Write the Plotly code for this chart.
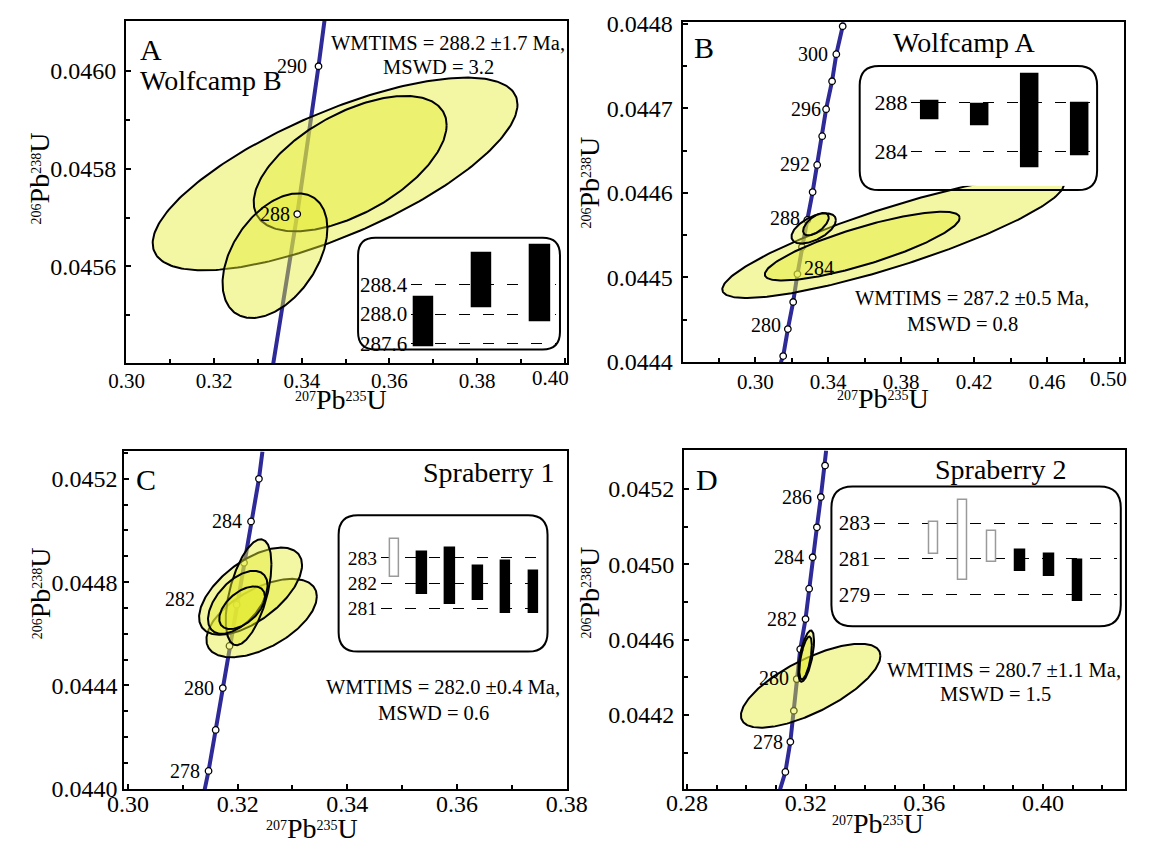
import numpy as np
import plotly.graph_objects as go

W, H = 1150, 847
FONT = "Liberation Serif"
BLUE = "#2e2a98"
FILL = "rgba(228,234,50,0.45)"

# ======================= DATA =======================
# ---- Panel A : Wolfcamp B ----
A_ages = [288, 290]
A_age_x = [0.33896, 0.34381]
A_age_y = [0.045707, 0.046009]
A_line_x = [0.33345, 0.34517]
A_line_y = [0.045400, 0.046102]
A_cx = [0.34759, 0.35103, 0.33387]
A_cy = [0.045789, 0.045810, 0.045622]
A_sx = [0.04162, 0.02201, 0.01196]
A_sy = [0.0001968, 0.0001383, 0.0001274]
A_rho = [0.72, 0.57, 0.44]
A_bar_lo = [287.56, 288.09, 287.90]
A_bar_hi = [288.23, 288.83, 288.95]
A_bar_open = [False, False, False]
A_inset_ticks = [287.6, 288.0, 288.4]
A_inset_text = ["287.6", "288.0", "288.4"]
A_label_ages = [288, 290]
A_xtickvals = [0.30, 0.32, 0.34, 0.36, 0.38, 0.40]
A_xticktext = ["0.30", "0.32", "0.34", "0.36", "0.38", ""]   # last label drawn shifted (as in the figure)

# ---- Panel B : Wolfcamp A ----
B_ages = [278, 280, 282, 284, 286, 288, 290, 292, 294, 296, 298, 300, 302]
B_age_x = [0.31530, 0.31786, 0.32078, 0.32311, 0.32561, 0.32852, 0.33144,
           0.33394, 0.33668, 0.33883, 0.34210, 0.34443, 0.34792]
B_age_y = [0.044407, 0.044439, 0.044471, 0.044504, 0.044536, 0.044568, 0.044601,
           0.044633, 0.044667, 0.044699, 0.044732, 0.044764, 0.044797]
B_line_x = [0.31396, 0.34833]
B_line_y = [0.0443995, 0.0448016]
B_cx = [0.37559, 0.35864, 0.33203, 0.33324]
B_cy = [0.044548, 0.044537, 0.044558, 0.044563]
B_sx = [0.09367, 0.05341, 0.01218, 0.00704]
B_sy = [0.0000722, 0.0000407, 0.0000178, 0.0000132]
B_rho = [0.86, 0.82, 0.55, 0.60]
B_bar_lo = [286.65, 286.15, 282.70, 283.63]
B_bar_hi = [288.12, 287.85, 290.30, 287.98]
B_bar_open = [False, False, False, False]
B_inset_ticks = [284, 288]
B_inset_text = ["284", "288"]
B_label_ages = [280, 284, 288, 292, 296, 300]
B_xtickvals = [0.30, 0.34, 0.38, 0.42, 0.46, 0.50]
B_xticktext = ["0.30", "0.34", "0.38", "0.42", "0.46", ""]

# ---- Panel C : Spraberry 1 ----
C_ages = [278, 279, 280, 281, 282, 283, 284, 285]
C_age_x = [0.31469, 0.31599, 0.31729, 0.31851, 0.31981, 0.32116, 0.32244, 0.32388]
C_age_y = [0.044069, 0.044228, 0.044390, 0.044553, 0.044713, 0.044875, 0.045035, 0.045200]
C_line_x = [0.31399, 0.32452]
C_line_y = [0.043998, 0.045306]
C_cx = [0.32437, 0.32235, 0.32199, 0.32002, 0.32081]
C_cy = [0.044661, 0.044765, 0.044761, 0.044722, 0.044701]
C_sx = [0.01007, 0.00939, 0.00417, 0.00543, 0.00417]
C_sy = [0.0001518, 0.0001687, 0.0002050, 0.0001220, 0.0000825]
C_rho = [0.55, 0.60, 0.53, 0.54, 0.52]
C_bar_lo = [282.25, 281.58, 281.16, 281.33, 280.83, 280.81]
C_bar_hi = [283.75, 283.21, 283.36, 282.66, 282.87, 282.47]
C_bar_open = [True, False, False, False, False, False]
C_inset_ticks = [281, 282, 283]
C_inset_text = ["281", "282", "283"]
C_label_ages = [278, 280, 282, 284]

# ---- Panel D : Spraberry 2 ----
D_ages = [277, 278, 279, 280, 281, 282, 283, 284, 285, 286, 287]
D_age_x = [0.31317, 0.31485, 0.31603, 0.31700, 0.31818, 0.31997, 0.32119,
           0.32237, 0.32380, 0.32513, 0.32656]
D_age_y = [0.043897, 0.044057, 0.044222, 0.044390, 0.044549, 0.044709, 0.044870,
           0.045037, 0.045196, 0.045357, 0.045524]
D_line_x = [0.31138, 0.32692]
D_line_y = [0.043805, 0.045604]
D_cx = [0.32170, 0.32017, 0.31998]
D_cy = [0.044355, 0.044512, 0.044502]
D_sx = [0.02352, 0.00267, 0.00212]
D_sy = [0.0002228, 0.0001363, 0.0001140]
D_rho = [0.71, 0.60, 0.60]
D_bar_lo = [281.28, 279.82, 280.82, 280.31, 280.05, 278.67]
D_bar_hi = [283.07, 284.28, 282.55, 281.53, 281.29, 280.95]
D_bar_open = [True, True, True, False, False, False]
D_inset_ticks = [279, 281, 283]
D_inset_text = ["279", "281", "283"]
D_label_ages = [278, 280, 282, 284, 286]
D_ytickvals = [0.0442, 0.0446, 0.0450, 0.0454]
D_yticktext = ["0.0442", "0.0446", "0.0450", "0.0452"]

# ======================= HELPERS =======================
SX = 1.1  # horizontal layout scale of the panels


def X(px):
    """layout x position (px) -> figure px"""
    return px * SX if px < 575 else 575 + (px - 575) * SX


def fx(px):
    return X(px) / W


def fy(py):
    return 1 - py / H


def ellipse(cx, cy, sx, sy, rho, n=260):
    t = np.linspace(0, 2 * np.pi, n)
    x = cx + sx * np.cos(t)
    y = cy + sy * (rho * np.cos(t) + np.sqrt(1 - rho ** 2) * np.sin(t))
    return x, y


fig = go.Figure()


def add_panel(k, ages, ax, ay, lx, ly, cx, cy, sx, sy, rho, markers_on_top=False):
    xa, ya = ("x%d" % k if k > 1 else "x"), ("y%d" % k if k > 1 else "y")
    pts = sorted(zip(list(ly[:1]) + list(ay) + list(ly[1:]), list(lx[:1]) + list(ax) + list(lx[1:])))
    fig.add_trace(go.Scatter(x=[p[1] for p in pts], y=[p[0] for p in pts], mode="lines",
                             line=dict(color=BLUE, width=4), xaxis=xa, yaxis=ya, hoverinfo="skip"))
    mk = go.Scatter(x=ax, y=ay, mode="markers", text=[str(a) for a in ages],
                    marker=dict(size=6.5, color="white", line=dict(color="black", width=1.3)),
                    xaxis=xa, yaxis=ya)
    if not markers_on_top:
        fig.add_trace(mk)
    for i in range(len(cx)):
        ex, ey = ellipse(cx[i], cy[i], sx[i], sy[i], rho[i])
        fig.add_trace(go.Scatter(x=ex, y=ey, mode="lines", fill="toself", fillcolor=FILL,
                                 line=dict(color="black", width=2), xaxis=xa, yaxis=ya, hoverinfo="skip"))
    if markers_on_top:
        fig.add_trace(mk)


def add_bars(k, lo, hi, is_open, width):
    colors = ["white" if o else "black" for o in is_open]
    lcols = ["#9a9a9a" if o else "black" for o in is_open]
    fig.add_trace(go.Bar(x=list(range(len(lo))), y=[h - l for h, l in zip(hi, lo)], base=lo,
                         width=width, marker=dict(color=colors, line=dict(color=lcols, width=1.5)),
                         xaxis="x%d" % k, yaxis="y%d" % k))


add_panel(1, A_ages, A_age_x, A_age_y, A_line_x, A_line_y, A_cx, A_cy, A_sx, A_sy, A_rho, True)
add_panel(2, B_ages, B_age_x, B_age_y, B_line_x, B_line_y, B_cx, B_cy, B_sx, B_sy, B_rho)
add_panel(3, C_ages, C_age_x, C_age_y, C_line_x, C_line_y, C_cx, C_cy, C_sx, C_sy, C_rho)
add_panel(4, D_ages, D_age_x, D_age_y, D_line_x, D_line_y, D_cx, D_cy, D_sx, D_sy, D_rho)

add_bars(5, A_bar_lo, A_bar_hi, A_bar_open, 0.33)
add_bars(6, B_bar_lo, B_bar_hi, B_bar_open, 0.34)
add_bars(7, C_bar_lo, C_bar_hi, C_bar_open, 0.34)
add_bars(8, D_bar_lo, D_bar_hi, D_bar_open, 0.33)


def main_axis(dom, rng, anchor, tick0, dtick, mdtick, size, fmt, standoff,
              tickvals=None, ticktext=None, minor_vals=None):
    d = dict(domain=dom, range=rng, anchor=anchor, showline=True, mirror=True, linecolor="black",
             linewidth=2, ticks="inside", ticklen=5, tickwidth=1.5, tickcolor="black",
             showgrid=False, zeroline=False, tickformat=fmt, ticklabelstandoff=standoff,
             tickfont=dict(family=FONT, size=size, color="black"))
    if tickvals is not None:
        d.update(tickmode="array", tickvals=tickvals, ticktext=ticktext)
    else:
        d.update(tickmode="linear", tick0=tick0, dtick=dtick)
    if minor_vals is not None:
        d["minor"] = dict(tickmode="array", tickvals=minor_vals, ticks="inside", ticklen=4,
                          tickwidth=1.5, tickcolor="black", showgrid=False)
    else:
        d["minor"] = dict(tickmode="linear", tick0=tick0, dtick=mdtick, ticks="inside", ticklen=4,
                          tickwidth=1.5, tickcolor="black", showgrid=False)
    return d


def inset_axes(xpx, ypx, xr, yr, anchor_x, tickvals, ticktext, size):
    xa = dict(domain=[fx(xpx[0]), fx(xpx[1])], range=xr, visible=False, anchor=anchor_x.replace("x", "y"))
    ya = dict(domain=[fy(ypx[1]), fy(ypx[0])], range=yr, anchor=anchor_x, tickmode="array",
              tickvals=tickvals, ticktext=ticktext, showgrid=True, gridcolor="black", gridwidth=1.2,
              griddash="11px,13px", zeroline=False, showline=False, ticks="", ticklabelstandoff=3,
              tickfont=dict(family=FONT, size=size, color="black"))
    return xa, ya


layout = dict(width=W, height=H, margin=dict(l=0, r=0, t=0, b=0), paper_bgcolor="white",
              plot_bgcolor="white", showlegend=False, bargap=0)

layout["xaxis"] = main_axis([fx(101.7), fx(516.7)], [0.2999, 0.40053], "y", 0.30, 0.02, 0.01, 21, ".2f", -3,
                            A_xtickvals, A_xticktext)
layout["yaxis"] = main_axis([fy(362.7), fy(10)], [0.045402, 0.046102], "x", 0.0454, 0.0002, 0.0001, 24, ".4f", 3)
layout["xaxis2"] = main_axis([fx(677.7), fx(1093)], [0.26019, 0.50211], "y2", 0.28, 0.04, 0.02, 21, ".2f", -1,
                             B_xtickvals, B_xticktext)
layout["yaxis2"] = main_axis([fy(361.7), fy(11.7)], [0.0443995, 0.0448016], "x2", 0.0444, 0.0001, 0.00005, 24,
                             ".4f", 3)
layout["xaxis3"] = main_axis([fx(100), fx(516.7)], [0.29932, 0.38008], "y3", 0.30, 0.02, 0.01, 24, ".2f", -8)
layout["yaxis3"] = main_axis([fy(801), fy(453.3)], [0.043998, 0.045306], "x3", 0.0440, 0.0004, 0.0001, 24,
                             ".4f", 0)
layout["xaxis4"] = main_axis([fx(679), fx(1094.3)], [0.2790, 0.4278], "y4", 0.28, 0.04, 0.01, 24, ".2f", -9)
layout["yaxis4"] = main_axis([fy(801), fy(452.3)], [0.043805, 0.045604], "x4", None, None, None, 24, ".4f", 3,
                             D_ytickvals, D_yticktext, [0.0440, 0.0444, 0.0448, 0.0452])

layout["xaxis5"], layout["yaxis5"] = inset_axes([370, 506.7], [236, 347], [-0.213, 2.277], [287.533, 289.013],
                                                "x5", A_inset_ticks, A_inset_text, 21)
layout["xaxis6"], layout["yaxis6"] = inset_axes([893, 1064.3], [60, 180], [-0.361, 3.278], [281.144, 290.744],
                                                "x6", B_inset_ticks, B_inset_text, 22)
layout["xaxis7"], layout["yaxis7"] = inset_axes([341.7, 493.3], [525, 655], [-0.477, 5.309], [279.47, 284.44],
                                                "x7", C_inset_ticks, C_inset_text, 19.5)
layout["xaxis8"], layout["yaxis8"] = inset_axes([858, 1086.7], [495, 630], [-2.074, 6.365], [277.43, 284.73],
                                                "x8", D_inset_ticks, D_inset_text, 21)
fig.update_layout(**layout)


def rounded(x0, y0, x1, y1, r):
    rx, ry = r / W, r / H
    X0, X1, Y0, Y1 = fx(x0), fx(x1), fy(y0), fy(y1)
    p = (f"M {X0+rx},{Y0} L {X1-rx},{Y0} Q {X1},{Y0} {X1},{Y0-ry} L {X1},{Y1+ry} "
         f"Q {X1},{Y1} {X1-rx},{Y1} L {X0+rx},{Y1} Q {X0},{Y1} {X0},{Y1+ry} "
         f"L {X0},{Y0-ry} Q {X0},{Y0} {X0+rx},{Y0} Z")
    return dict(type="path", path=p, xref="paper", yref="paper", line=dict(color="black", width=2),
                layer="above")


fig.update_layout(shapes=[rounded(320, 233.3, 510, 348.3, 18), rounded(844.3, 56.7, 1067.7, 184.3, 20),
                          rounded(301.7, 519, 498.3, 659.3, 20), rounded(817.7, 489.3, 1090, 633.3, 22)])

anns = []


def txt(s, px, py, size, angle=0):
    anns.append(dict(text=s, x=fx(px), y=fy(py), xref="paper", yref="paper", showarrow=False,
                     xanchor="center", yanchor="middle", textangle=angle,
                     font=dict(family=FONT, size=size, color="black")))


txt("A", 125, 40, 30); txt("Wolfcamp B", 182, 72, 28)
txt("WMTIMS = 288.2 ±1.7 Ma,", 405, 33, 20.5); txt("MSWD = 3.2", 396, 58, 20.5)
txt("B", 698, 38, 30); txt("Wolfcamp A", 942, 32, 28)
txt("WMTIMS = 287.2 ±0.5 Ma,", 950, 295, 20.5); txt("MSWD = 0.8", 941, 322, 20.5)
txt("C", 120, 482, 30); txt("Spraberry 1", 443, 475, 28)
txt("WMTIMS = 282.0 ±0.4 Ma,", 400, 696, 20.5); txt("MSWD = 0.6", 391, 722, 20.5)
txt("D", 701, 482, 30); txt("Spraberry 2", 977, 472, 28)
txt("WMTIMS = 280.7 ±1.1 Ma,", 980, 678, 20.5); txt("MSWD = 1.5", 972, 703, 20.5)

# shifted last x tick labels of panels A and B
txt("0.40", 501, 378, 21)
txt("0.50", 1078, 379, 21)

SUP = '<span style="font-size:20px"><sup>%s</sup></span>'
XT = SUP % "207" + "Pb" + SUP % "235" + "U"
YT = SUP % "206" + "Pb" + SUP % "238" + "U"
txt(XT, 304, 400, 28); txt(YT, 20, 172, 28, -90)
txt(XT, 866, 399, 28); txt(YT, 590, 176, 28, -90)
txt(XT, 277, 841, 28); txt(YT, 21, 599, 28, -90)
txt(XT, 862, 836, 28); txt(YT, 590, 598, 28, -90)

label_style = {
    1: {288: (-5, 0), 290: (-9, 0)},
    2: {280: (-4.5, 4), 284: (4, 6), 288: (-5, 2), 292: (-5, 1), 296: (-3, 0), 300: (-6, 0)},
    3: {278: (-6, 0), 280: (-6, 0), 282: (-36, 6), 284: (-6, 0)},
    4: {278: (-5, 0), 280: (-5, 1), 282: (-6, 0), 284: (-6, 0), 286: (-6, 0)},
}
panel_sets = {1: (A_ages, A_age_x, A_age_y, A_label_ages), 2: (B_ages, B_age_x, B_age_y, B_label_ages),
              3: (C_ages, C_age_x, C_age_y, C_label_ages), 4: (D_ages, D_age_x, D_age_y, D_label_ages)}
for k, (ages, axv, ayv, labs) in panel_sets.items():
    for a in labs:
        i = ages.index(a)
        dx, dy = label_style[k][a]
        anns.append(dict(text=str(a), x=axv[i], y=ayv[i], xref=("x%d" % k if k > 1 else "x"),
                         yref=("y%d" % k if k > 1 else "y"), showarrow=False,
                         xanchor="left" if dx > 0 else "right", yanchor="middle", xshift=dx * SX, yshift=dy,
                         font=dict(family=FONT, size=20, color="black")))

fig.update_layout(annotations=anns)
fig.write_html("out.html", config={"displayModeBar": False},
               post_script="document.body.style.margin='0';")
